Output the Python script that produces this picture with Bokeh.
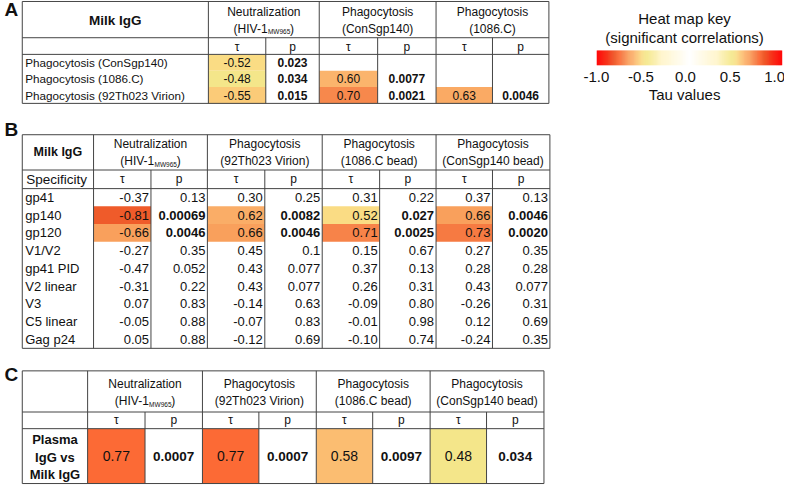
import numpy as np
from bokeh.plotting import figure
from bokeh.models import Range1d, ColumnDataSource
from bokeh.core.properties import value
from bokeh.transform import linear_cmap
from bokeh.embed import file_html
from bokeh.resources import INLINE

FONT = "Liberation Sans"

# ---------------- data ----------------
# Panel A
a_rows = ["Phagocytosis (ConSgp140)", "Phagocytosis (1086.C)", "Phagocytosis (92Th023 Virion)"]
a_head1 = ["Neutralization", "Phagocytosis", "Phagocytosis"]
a_head2 = [[("(HIV-1", 0), ("MW965", 1), (")", 0)], [("(ConSgp140)", 0)], [("(1086.C)", 0)]]
a_neut_tau = ["-0.52", "-0.48", "-0.55"]
a_neut_p = ["0.023", "0.034", "0.015"]
a_cons_tau = ["", "0.60", "0.70"]
a_cons_p = ["", "0.0077", "0.0021"]
a_1086_tau = ["", "", "0.63"]
a_1086_p = ["", "", "0.0046"]

# Panel B
b_rows = ["gp41", "gp140", "gp120", "V1/V2", "gp41 PID", "V2 linear", "V3", "C5 linear", "Gag p24"]
b_head1 = ["Neutralization", "Phagocytosis", "Phagocytosis", "Phagocytosis"]
b_head2 = [[("(HIV-1", 0), ("MW965", 1), (")", 0)], [("(92Th023 Virion)", 0)],
           [("(1086.C bead)", 0)], [("(ConSgp140 bead)", 0)]]
b_neut_tau = ["-0.37", "-0.81", "-0.66", "-0.27", "-0.47", "-0.31", "0.07", "-0.05", "0.05"]
b_neut_p = ["0.13", "0.00069", "0.0046", "0.35", "0.052", "0.22", "0.83", "0.88", "0.88"]
b_92th_tau = ["0.30", "0.62", "0.66", "0.45", "0.43", "0.43", "-0.14", "-0.07", "-0.12"]
b_92th_p = ["0.25", "0.0082", "0.0046", "0.1", "0.077", "0.077", "0.63", "0.83", "0.69"]
b_1086_tau = ["0.31", "0.52", "0.71", "0.15", "0.37", "0.26", "-0.09", "-0.01", "-0.10"]
b_1086_p = ["0.22", "0.027", "0.0025", "0.67", "0.13", "0.31", "0.80", "0.98", "0.74"]
b_cons_tau = ["0.37", "0.66", "0.73", "0.27", "0.28", "0.43", "-0.26", "0.12", "-0.24"]
b_cons_p = ["0.13", "0.0046", "0.0020", "0.35", "0.28", "0.077", "0.31", "0.69", "0.35"]

# Panel C
c_label = ["Plasma", "IgG vs", "Milk IgG"]
c_head1 = ["Neutralization", "Phagocytosis", "Phagocytosis", "Phagocytosis"]
c_head2 = b_head2
c_tau = ["0.77", "0.77", "0.58", "0.48"]
c_p = ["0.0007", "0.0007", "0.0097", "0.034"]

# Heat map key
key_ticks = [-1.0, -0.5, 0.0, 0.5, 1.0]
key_tick_labels = ["-1.0", "-0.5", "0.0", "0.5", "1.0"]

# ---------------- colour scale ----------------
STOPS = [(0.0, "#ffffff"), (0.30, "#fff5cc"), (0.45, "#f5e88c"), (0.48, "#f4e68a"),
         (0.52, "#fadc84"), (0.55, "#fbcb78"), (0.60, "#fbb46c"), (0.66, "#f9a05c"),
         (0.70, "#f7884c"), (0.73, "#f67a42"), (0.77, "#fc6a35"), (0.81, "#ef5b2a"),
         (1.0, "#ff0a0a")]


def _rgb(h):
    return [int(h[i:i + 2], 16) for i in (1, 3, 5)]


def interp_color(a):
    a = min(abs(a), 1.0)
    for (t0, c0), (t1, c1) in zip(STOPS[:-1], STOPS[1:]):
        if a <= t1:
            f = (a - t0) / (t1 - t0)
            r0, r1 = _rgb(c0), _rgb(c1)
            return "#%02x%02x%02x" % tuple(int(round(u + (v - u) * f)) for u, v in zip(r0, r1))
    return STOPS[-1][1]


PALETTE = [interp_color(t) for t in np.linspace(-1, 1, 201)]

# ---------------- figure ----------------
p = figure(width=784, height=485, x_range=Range1d(3, 795), y_range=Range1d(499, 4),
           x_axis_type=None, y_axis_type=None, toolbar_location=None,
           output_backend="svg", min_border=0, outline_line_color=None,
           background_fill_color="white", border_fill_color="white")
p.grid.visible = False

ADV = {'(': 333, ')': 333, 'H': 722, 'I': 278, 'V': 667, '-': 333, '1': 556, 'M': 833,
       'W': 944, '9': 556, '6': 556, '5': 556}


def tw(s, size):
    return sum(ADV.get(c, 556) for c in s) * size / 1000.0


def txt(xs, ys, texts, size, align="center", bold=False, baseline="middle"):
    keep = [(x, y, t) for x, y, t in zip(xs, ys, texts) if t != ""]
    if not keep:
        return
    xs, ys, texts = zip(*keep)
    p.text(x=list(xs), y=list(ys), text=list(texts), text_font=value(FONT),
           text_font_size=value(f"{size}px"), text_align=align, text_baseline=baseline,
           text_font_style="bold" if bold else "normal", text_color="#111111")


seg = dict(x0=[], y0=[], x1=[], y1=[])


def hl(x0, x1, y):
    seg["x0"].append(x0); seg["x1"].append(x1); seg["y0"].append(y); seg["y1"].append(y)


def vl(x, y0, y1):
    seg["x0"].append(x); seg["x1"].append(x); seg["y0"].append(y0); seg["y1"].append(y1)


cells = dict(left=[], right=[], top=[], bottom=[], tau=[])


def cell(l, r, t, b, tau):
    cells["left"].append(l); cells["right"].append(r)
    cells["top"].append(t); cells["bottom"].append(b); cells["tau"].append(tau)


def header2(cx, y, pieces, size, subsize):
    if len(pieces) == 1:
        txt([cx], [y], [pieces[0][0]], size)
        return
    total = sum(tw(s, subsize if sub else size) for s, sub in pieces)
    x = cx - total / 2
    for s, sub in pieces:
        sz = subsize if sub else size
        txt([x], [y + (3.0 if sub else 0)], [s], sz, align="left")
        x += tw(s, sz)


def table_frame(xs, ytop, yhead, ysub, ybot):
    hl(xs[0], xs[-1], ytop); hl(xs[0], xs[-1], ybot)
    hl(xs[0], xs[-1], yhead); hl(xs[0], xs[-1], ysub)
    vl(xs[0], ytop, ybot); vl(xs[-1], ytop, ybot)
    for i in range(1, len(xs) - 1, 2):
        vl(xs[i], ytop, yhead)
    for i in range(1, len(xs) - 1):
        vl(xs[i], yhead, ybot)


def sig(s):
    return s != "" and float(s) < 0.05


# ---------------- Panel A ----------------
xA = [25, 213, 271, 325, 384, 443, 500, 557]
A_top, A_head, A_sub, A_bot = 5, 42, 59, 109
table_frame(xA, A_top, A_head, A_sub, A_bot)
rhA = (A_bot - A_sub) / len(a_rows)
a_cols = [(a_neut_tau, a_neut_p), (a_cons_tau, a_cons_p), (a_1086_tau, a_1086_p)]
txt([14], [13], ["A"], 19, bold=True)
txt([(xA[0] + xA[1]) / 2], [24], ["Milk IgG"], 13.5, bold=True)
for g in range(3):
    l, m, r = xA[1 + 2 * g], xA[2 + 2 * g], xA[3 + 2 * g]
    cx = (l + r) / 2
    txt([cx], [16], [a_head1[g]], 12)
    header2(cx, 33, a_head2[g], 12, 6.5)
    txt([(l + m) / 2, (m + r) / 2], [51, 51], ["τ", "p"], 12)
    taus, ps = a_cols[g]
    for i in range(len(a_rows)):
        t0 = A_sub + i * rhA
        if sig(ps[i]):
            cell(l, m, t0, t0 + rhA, float(taus[i]))
        yc = t0 + rhA / 2
        txt([(l + m) / 2], [yc], [taus[i]], 12)
        txt([(m + r) / 2], [yc], [ps[i]], 12, bold=sig(ps[i]))
txt([28] * 3, [A_sub + rhA * (i + 0.5) for i in range(3)], a_rows, 11.7, align="left")

# ---------------- Panel B ----------------
xB = [25, 97, 155, 212, 270, 328, 386, 443, 500, 558]
B_top, B_head, B_sub, B_bot = 141, 177, 196, 359
table_frame(xB, B_top, B_head, B_sub, B_bot)
rhB = (B_bot - B_sub) / len(b_rows)
b_cols = [(b_neut_tau, b_neut_p), (b_92th_tau, b_92th_p), (b_1086_tau, b_1086_p), (b_cons_tau, b_cons_p)]
txt([14], [136], ["B"], 19, bold=True)
txt([(xB[0] + xB[1]) / 2], [159], ["Milk IgG"], 12.5, bold=True)
txt([29], [186.5], ["Specificity"], 13.5, align="left")
for g in range(4):
    l, m, r = xB[1 + 2 * g], xB[2 + 2 * g], xB[3 + 2 * g]
    cx = (l + r) / 2
    txt([cx], [150], [b_head1[g]], 12)
    header2(cx, 168, b_head2[g], 12, 6.5)
    txt([(l + m) / 2, (m + r) / 2], [186.5, 186.5], ["τ", "p"], 12)
    taus, ps = b_cols[g]
    for i in range(len(b_rows)):
        t0 = B_sub + i * rhB
        if sig(ps[i]):
            cell(l, m, t0, t0 + rhB, float(taus[i]))
        yc = t0 + rhB / 2
        txt([m - 2], [yc], [taus[i]], 13, align="right")
        txt([r - 2], [yc], [ps[i]], 13, align="right", bold=sig(ps[i]))
txt([28] * len(b_rows), [B_sub + rhB * (i + 0.5) for i in range(len(b_rows))], b_rows, 13, align="left")

# ---------------- Panel C ----------------
xC = [25, 91, 149, 207, 264, 322, 379, 437, 494, 552]
C_top, C_head, C_sub, C_bot = 382, 424, 441, 497
table_frame(xC, C_top, C_head, C_sub, C_bot)
txt([14], [386], ["C"], 19, bold=True)
txt([(xC[0] + xC[1]) / 2] * 3, [452, 470, 488], c_label, 13, bold=True)
for g in range(4):
    l, m, r = xC[1 + 2 * g], xC[2 + 2 * g], xC[3 + 2 * g]
    cx = (l + r) / 2
    txt([cx], [395], [c_head1[g]], 12)
    header2(cx, 413, c_head2[g], 12, 6.5)
    txt([(l + m) / 2, (m + r) / 2], [432.5, 432.5], ["τ", "p"], 12)
    if sig(c_p[g]):
        cell(l, m, C_sub, C_bot, float(c_tau[g]))
    txt([(l + m) / 2], [469], [c_tau[g]], 14)
    txt([(m + r) / 2], [469], [c_p[g]], 13.5, bold=sig(c_p[g]))

# ---------------- draw cells & lines ----------------
cell_src = ColumnDataSource(cells)
cr = p.quad(left="left", right="right", top="top", bottom="bottom", source=cell_src,
            fill_color=linear_cmap("tau", PALETTE, -1, 1), line_color=None)
p.renderers.remove(cr)
p.renderers.insert(0, cr)
p.segment(x0=seg["x0"], y0=seg["y0"], x1=seg["x1"], y1=seg["y1"], line_color="#444444", line_width=1)

# ---------------- heat map key ----------------
key_t = np.linspace(-1, 1, 187)
key_x = 699 + 93 * key_t
key_src = ColumnDataSource(dict(left=key_x - 0.7, right=key_x + 0.7, tau=key_t))
p.quad(left="left", right="right", top=55, bottom=70, source=key_src,
       fill_color=linear_cmap("tau", PALETTE, -1, 1), line_color=None)
txt([694], [22], ["Heat map key"], 15)
txt([694], [42], ["(significant correlations)"], 15)
txt([695 + 90 * t for t in key_ticks], [82] * 5, key_tick_labels, 15)
txt([694], [100], ["Tau values"], 15)

open("out.html", "w").write(file_html(p, INLINE))
